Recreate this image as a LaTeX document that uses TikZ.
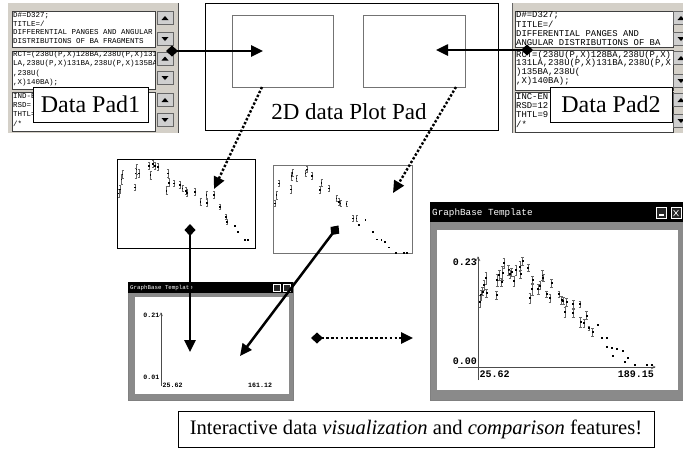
\documentclass[tikz,border=0pt]{standalone}
\usepackage{fontspec}
\setmainfont{Liberation Serif}
\newfontfamily\scrfont{Liberation Mono}
\usetikzlibrary{arrows.meta}
\definecolor{padgray}{HTML}{D4D0C8}
\definecolor{framegray}{HTML}{8A8A8A}
\definecolor{btngray}{HTML}{CFCFCF}

\tikzset{
  padbg/.style={fill=padgray, draw=none, anchor=north west, inner sep=0pt},
  panel/.style={fill=white, draw=black!75, line width=0.5pt, anchor=north west, inner sep=0pt},
  sbtn/.style={fill=btngray, draw=black!60, line width=0.5pt},
  padtxt/.style={anchor=west, inner sep=0pt, font=\scrfont\fontsize{7.5}{7.5}\selectfont},
  padtxtR/.style={anchor=west, inner sep=0pt, font=\scrfont\fontsize{8.9}{8.9}\selectfont},
  tag/.style={draw=black, line width=0.6pt, fill=white, inner sep=0pt, font=\fontsize{24}{24}\selectfont},
  thinbox/.style={draw=black!55, line width=0.6pt, anchor=north west, inner sep=0pt},
  thumb/.style={draw=black, line width=0.7pt, fill=white, anchor=north west, inner sep=0pt},
  winframe/.style={fill=framegray, draw=black!50, line width=0.5pt, anchor=north west, inner sep=0pt},
  wininner/.style={fill=white, draw=none, anchor=north west, inner sep=0pt},
  titlebar/.style={fill=black, draw=none, anchor=north west, inner sep=0pt},
  wbtn/.style={fill=black!85, draw=white!85, line width=0.6pt},
  axisline/.style={draw=black!70, line width=0.6pt},
  axlabS/.style={inner sep=0pt, font=\scrfont\bfseries\fontsize{6.6}{6.6}\selectfont},
  axlabB/.style={inner sep=0pt, font=\scrfont\bfseries\fontsize{10}{10}\selectfont},
  ebar/.style={draw=black!60, line width=0.45pt},
  link/.style={line width=2.5pt, {Diamond[length=12pt,width=11pt]}-{Triangle[length=12pt,width=11pt]}},
  dlink/.style={line width=2.4pt, dash pattern=on 2.4pt off 1.9pt, -{Triangle[length=12pt,width=11pt]}},
  ddlink/.style={line width=2.7pt, dash pattern=on 2.7pt off 2.2pt,
    {Diamond[length=12pt,width=11pt]}-{Triangle[length=12pt,width=11pt]}},
  upbtn/.pic={\draw[sbtn] (-8,-6.5) rectangle (8,6.5); \fill (-3.5,2) -- (3.5,2) -- (0,-2) -- cycle;},
  downbtn/.pic={\draw[sbtn] (-8,-6.5) rectangle (8,6.5); \fill (-3.5,-2) -- (3.5,-2) -- (0,2) -- cycle;}
}

\begin{document}
\begin{tikzpicture}[x=1pt,y=-1pt]
\useasboundingbox (0,0) rectangle (683,448);
\fill[white] (0,0) rectangle (683,448);

% ---------- left data pad ----------
\node[padbg, minimum width=170, minimum height=130] (padL) at (8,3) {};
\draw[black!70, line width=0.6pt] (padL.north east) -- (padL.south east);
\node[panel, minimum width=143, minimum height=36] (padLa) at (12,11) {};
\node[panel, minimum width=143, minimum height=38] (padLb) at (12,51) {};
\node[panel, minimum width=143, minimum height=39] (padLc) at (12,92) {};
\pic at (165,18) {upbtn};  \pic at (165,39) {downbtn};
\pic at (165,58.5) {upbtn};  \pic at (165,78) {downbtn};
\pic at (165,100) {upbtn};  \pic at (165,120) {downbtn};
\begin{scope}
  \clip (12,11) rectangle (155,47);
  \node[padtxt] (tLa1) at (13,15.5) {D\#=D327;};
  \node[padtxt] (tLa2) at (13,24) {TITLE=/};
  \node[padtxt] (tLa3) at (13,32.5) {DIFFERENTIAL PANGES AND ANGULAR};
  \node[padtxt] (tLa4) at (13,41) {DISTRIBUTIONS OF BA FRAGMENTS};
\end{scope}
\begin{scope}
  \clip (12,51) rectangle (155,89);
  \node[padtxt] (tLb1) at (13,55) {RCT=(238U(P,X)128BA,238U(P,X)131};
  \node[padtxt] (tLb2) at (13,64) {LA,238U(P,X)131BA,238U(P,X)135BA};
  \node[padtxt] (tLb3) at (13,73.5) {,238U(};
  \node[padtxt] (tLb4) at (13,82.5) {,X)140BA);};
\end{scope}
\node[padtxt] (tLc1) at (13,96.5) {IND-E};
\node[padtxt] (tLc2) at (13,105.5) {RSD=};
\node[padtxt] (tLc3) at (13,114.5) {THTL=};
\node[padtxt] (tLc4) at (13,123.5) {/*};
\node[tag, minimum width=115, minimum height=35] (tag1) at (90.5,104.5) {Data Pad1};

% ---------- right data pad ----------
\node[padbg, minimum width=180, minimum height=130] (padR) at (512,3) {};
\draw[black!60, line width=0.6pt] (padR.north west) -- (padR.south west);
\node[panel, minimum width=158, minimum height=36] (padRa) at (515,11) {};
\node[panel, minimum width=158, minimum height=40] (padRb) at (515,50) {};
\node[panel, minimum width=158, minimum height=40] (padRc) at (515,92) {};
\pic at (681,18) {upbtn};  \pic at (681,39) {downbtn};
\pic at (681,58) {upbtn};  \pic at (681,81) {downbtn};
\pic at (681,100) {upbtn}; \pic at (681,121) {downbtn};
\begin{scope}
  \clip (515,11) rectangle (672,47);
  \node[padtxtR] (tRa1) at (516,15.5) {D\#=D327;};
  \node[padtxtR] (tRa2) at (516,24.5) {TITLE=/};
  \node[padtxtR] (tRa3) at (516,33.5) {DIFFERENTIAL PANGES AND};
  \node[padtxtR] (tRa4) at (516,43) {ANGULAR DISTRIBUTIONS OF BA};
\end{scope}
\begin{scope}
  \clip (515,50) rectangle (672,90);
  \node[padtxtR] (tRb1) at (516,55) {RCT=(238U(P,X)128BA,238U(P,X)};
  \node[padtxtR] (tRb2) at (516,63.5) {131LA,238U(P,X)131BA,238U(P,X};
  \node[padtxtR] (tRb3) at (516,72) {)135BA,238U(};
  \node[padtxtR] (tRb4) at (516,81) {,X)140BA);};
\end{scope}
\node[padtxtR] (tRc1) at (516,97) {INC-EN};
\node[padtxtR] (tRc2) at (516,106) {RSD=12};
\node[padtxtR] (tRc3) at (516,115) {THTL=9};
\node[padtxtR] (tRc4) at (516,124) {/*};
\node[tag, minimum width=122, minimum height=35] (tag2) at (611,104.5) {Data Pad2};

% ---------- 2D plot pad ----------
\node[draw=black, line width=0.7pt, anchor=north west, inner sep=0pt,
      minimum width=293, minimum height=127] (plotpad) at (205,3) {};
\node[thinbox, minimum width=101, minimum height=72] (ppL) at (232,15) {};
\node[thinbox, minimum width=102, minimum height=72] (ppR) at (363,15) {};
\node[inner sep=0pt, font=\fontsize{23}{23}\selectfont] (pplabel) at (349,112) {2D data Plot Pad};

% ---------- plot thumbnails ----------
\node[thumb, minimum width=138, minimum height=89] (thL) at (117,159) {};
\node[thumb, draw=black!55, minimum width=139, minimum height=88] (thR) at (273,165) {};
\draw[black!55, line width=1.3pt] (thR.north east) -- (thR.south east);

\begin{scope}[x=0.33333pt, y=-0.33333pt, shift={(300,420)}]
\foreach \px/\py/\pe in {58/160/12, 60/148/12, 65/118/15, 68/103/12, 105/142/10,
  108/100/15, 110/88/15, 118/100/12, 148/78/10, 152/105/12, 160/72/10, 165/78/10,
  175/80/10, 205/100/12, 208/128/12, 200/152/12, 222/130/10, 240/135/10,
  248/145/10, 258/152/10, 262/158/10, 285/155/10, 302/186/10, 320/165/12,
  322/188/12, 342/165/10, 360/200/8, 378/230/8, 382/245/8, 405/258/0,
  415/275/0, 435/300/0, 445/300/0,
  525/190/10, 530/165/12, 537/130/10, 573/148/12, 575/108/12, 578/98/10,
  590/115/10, 617/100/10, 622/88/10, 637/108/10, 660/150/10, 665/128/10,
  688/145/10, 710/175/10, 718/185/10, 722/190/10, 740/192/8, 760/235/10,
  770/235/8, 778/255/0, 797/240/0, 820/275/0, 832/298/0, 845/300/0,
  855/305/0, 868/322/0, 888/338/0, 912/338/0, 922/338/0}{
  \ifnum\pe>0
    \draw[ebar] (\px,\py-\pe) -- (\px,\py+\pe)
      (\px-3,\py-\pe) -- (\px+3,\py-\pe) (\px-3,\py+\pe) -- (\px+3,\py+\pe);
  \fi
  \fill (\px-2.5,\py-2.5) rectangle (\px+2.5,\py+2.5);
}
\end{scope}

% ---------- small graph window ----------
\node[winframe, minimum width=165, minimum height=118] (gwS) at (128,282) {};
\node[titlebar, minimum width=165, minimum height=11] (gwSbar) at (128,282) {};
\node[wininner, minimum width=154, minimum height=97] (gwSin) at (135,297) {};
\node[anchor=west, inner sep=0pt, text=white, font=\scrfont\fontsize{5.8}{5.8}\selectfont]
  (gwStitle) at (130,287.5) {GraphBase Template};
\draw[wbtn] (273,284) rectangle (280,291);
\draw[wbtn] (283,284) rectangle (290,291);
\draw[axisline] (161,386) -- (161,313);
\draw[black!70, line width=0.5pt] (159.5,316) -- (161,313) -- (162.5,316);
\node[axlabS, anchor=east] (sy1) at (159.5,315) {0.21};
\node[axlabS, anchor=east] (sy0) at (159.5,377) {0.01};
\node[axlabS, anchor=west] (sx0) at (162.5,385) {25.62};
\node[axlabS, anchor=west] (sx1) at (248,385) {161.12};

% ---------- large graph window ----------
\node[winframe, minimum width=260, minimum height=198] (gwB) at (430,202) {};
\node[titlebar, minimum width=260, minimum height=20] (gwBbar) at (430,202) {};
\node[wininner, minimum width=241, minimum height=160] (gwBin) at (437,230) {};
\node[anchor=west, inner sep=0pt, text=white, font=\scrfont\fontsize{9.3}{9.3}\selectfont]
  (gwBtitle) at (432,213) {GraphBase Template};
\draw[wbtn] (656,207.5) rectangle (666,218.5);
\fill[white] (658.5,213.5) rectangle (663.5,215.5);
\draw[wbtn] (671,207.5) rectangle (681,218.5);
\draw[white, line width=0.6pt] (673.5,210) -- (678.5,216) (678.5,210) -- (673.5,216);
\draw[axisline] (478,380) -- (478,257);
\draw[axisline] (458,367) -- (655,367);
\draw[black!70, line width=0.6pt] (476,261) -- (478,257) -- (480,261);
\draw[black!70, line width=0.6pt] (651,365) -- (655,367) -- (651,369);
\node[axlabB, anchor=east] (by1) at (477,262) {0.23};
\node[axlabB, anchor=east] (by0) at (477,361) {0.00};
\node[axlabB, anchor=west] (bx0) at (479.5,374) {25.62};
\node[axlabB, anchor=east] (bx1) at (654,374) {189.15};

\begin{scope}[x=0.33333pt, y=-0.33333pt, shift={(1230,585)}]
\foreach \px/\py/\pe in {210/320/18, 213/300/15, 218/290/12, 222/270/15,
  228/250/18, 230/295/12, 260/300/12, 262/255/18, 268/240/15, 275/262/12,
  278/235/20, 282/205/15, 296/225/15, 300/238/12, 305/232/12, 312/258/15,
  318/225/15, 330/215/15, 332/238/12, 338/198/12, 355/218/10, 360/310/15,
  367/283/18, 368/255/12, 385/282/15, 390/272/12, 398/240/15, 400/248/10,
  410/298/10, 420/310/12, 425/265/12, 447/298/10, 455/315/12, 460/318/10,
  465/352/15, 470/322/12, 490/328/12, 490/355/12, 510/328/10, 512/382/15,
  522/385/12, 530/362/12, 537/400/6, 548/412/12, 565/390/0, 575/430/0,
  590/430/0, 592/455/0, 605/460/0, 620/462/0, 610/482/0, 640/468/0,
  655/490/0, 645/500/0, 675/510/0, 710/510/0, 725/510/0}{
  \ifnum\pe>0
    \draw[ebar] (\px,\py-\pe) -- (\px,\py+\pe)
      (\px-4,\py-\pe) -- (\px+4,\py-\pe) (\px-4,\py+\pe) -- (\px+4,\py+\pe);
  \fi
  \fill (\px-3.2,\py-3.2) rectangle (\px+3.2,\py+3.2);
}
\end{scope}

% ---------- connector end points ----------
\coordinate (padLout) at (166,51);
\coordinate (ppLin) at (263,51);
\coordinate (padRout) at (533,50);
\coordinate (ppRin) at (436,50);
\coordinate (ppLfoot) at (262,87);
\coordinate (thLin) at (214,189);
\coordinate (ppRfoot) at (456,87);
\coordinate (thRin) at (393,193);
\coordinate (thLout) at (190,224);
\coordinate (gwSinA) at (190,352);
\coordinate (thRout) at (338.5,225.5);
\coordinate (gwSinB) at (240,356);
\coordinate (gwSout) at (311,338);
\coordinate (gwBinA) at (413,338);

% ---------- connectors ----------
\draw[link] (padLout) -- (ppLin);
\draw[link] (padRout) -- (ppRin);
\draw[dlink] (ppLfoot) -- (thLin);
\draw[dlink] (ppRfoot) -- (thRin);
\draw[link] (thLout) -- (gwSinA);
\draw[link] (thRout) -- (gwSinB);
\draw[ddlink] (gwSout) -- (gwBinA);

% ---------- caption ----------
\node[draw=black, line width=0.7pt, fill=white, inner sep=0pt,
      minimum width=476, minimum height=36, font=\fontsize{20.6}{20.6}\selectfont]
  (caption) at (416,429)
  {Interactive data \textit{visualization} and \textit{comparison} features!};
\end{tikzpicture}
\end{document}
